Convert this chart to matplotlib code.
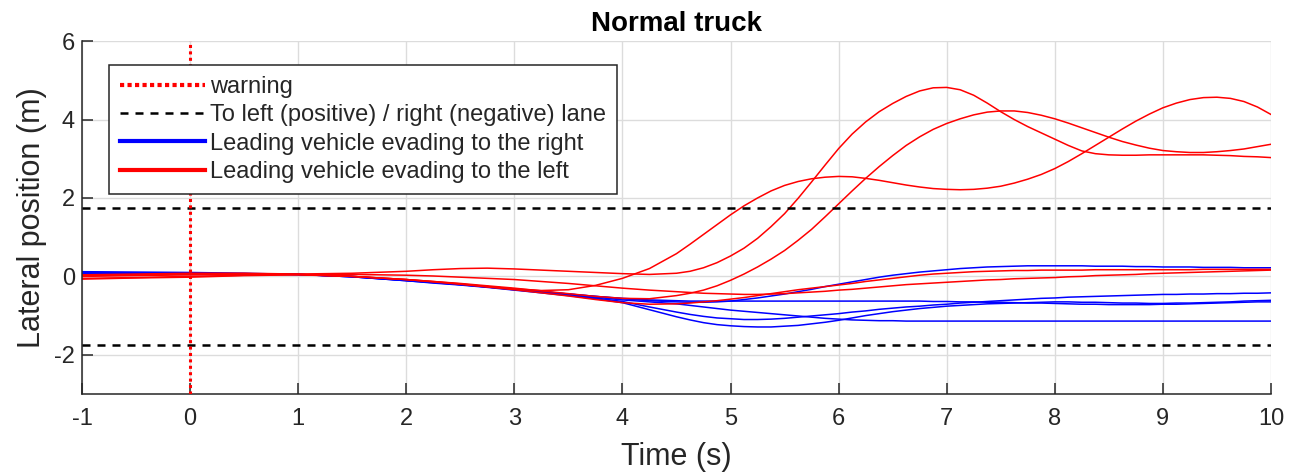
import matplotlib
matplotlib.use('Agg')
from matplotlib import pyplot as plt
from matplotlib.lines import Line2D

plt.rcParams['font.family'] = ['Liberation Sans', 'DejaVu Sans']
plt.rcParams['axes.unicode_minus'] = False

# time samples (s)
t = [-1, -0.5, 0, 0.5, 1, 1.5, 2, 2.25, 2.5, 2.75, 3, 3.25, 3.5, 3.75, 4, 4.25,
     4.5, 4.625, 4.75, 4.875, 5, 5.125, 5.25, 5.375, 5.5, 5.625, 5.75, 5.875,
     6, 6.125, 6.25, 6.375, 6.5, 6.625, 6.75, 6.875, 7, 7.125, 7.25, 7.375,
     7.5, 7.625, 7.75, 7.875, 8, 8.125, 8.25, 8.375, 8.5, 8.625, 8.75, 8.875,
     9, 9.125, 9.25, 9.375, 9.5, 9.625, 9.75, 9.875, 10]

# leading vehicle evading to the left (red)
left_1 = [0.02, 0.04, 0.06, 0.07, 0.05, 0.0, -0.08, -0.13, -0.19, -0.26, -0.32, -0.36, -0.34, -0.23, -0.05, 0.2,
          0.58, 0.82, 1.07, 1.32, 1.57, 1.8, 2.0, 2.18, 2.32, 2.42, 2.49, 2.53,
          2.55, 2.54, 2.5, 2.45, 2.39, 2.33, 2.28, 2.24, 2.22, 2.21, 2.22, 2.25,
          2.3, 2.38, 2.48, 2.6, 2.75, 2.93, 3.13, 3.34, 3.55, 3.76, 3.96, 4.14,
          4.3, 4.42, 4.51, 4.56, 4.57, 4.54, 4.46, 4.32, 4.13]
left_2 = [0.04, 0.06, 0.08, 0.08, 0.06, 0.08, 0.13, 0.17, 0.2, 0.21, 0.19, 0.16, 0.13, 0.1, 0.07, 0.05,
          0.08, 0.13, 0.22, 0.35, 0.52, 0.72, 0.97, 1.27, 1.6, 1.99, 2.41, 2.84,
          3.26, 3.63, 3.94, 4.2, 4.41, 4.59, 4.73, 4.81, 4.82, 4.76, 4.62, 4.42,
          4.2, 4.0, 3.82, 3.66, 3.5, 3.34, 3.2, 3.13, 3.1, 3.09, 3.09, 3.1,
          3.1, 3.1, 3.1, 3.1, 3.09, 3.08, 3.06, 3.05, 3.03]
left_3 = [0.0, 0.02, 0.04, 0.06, 0.05, 0.0, -0.08, -0.13, -0.18, -0.24, -0.3, -0.37, -0.44, -0.51, -0.56, -0.57,
          -0.49, -0.43, -0.35, -0.24, -0.1, 0.06, 0.24, 0.44, 0.66, 0.92, 1.2, 1.52,
          1.85, 2.18, 2.5, 2.8, 3.08, 3.34, 3.56, 3.75, 3.9, 4.02, 4.12, 4.19,
          4.22, 4.22, 4.18, 4.11, 4.02, 3.91, 3.79, 3.67, 3.55, 3.44, 3.35, 3.27,
          3.21, 3.18, 3.16, 3.16, 3.18, 3.21, 3.25, 3.31, 3.37]
left_4 = [-0.05, -0.03, 0.0, 0.03, 0.05, 0.05, 0.03, 0.01, -0.02, -0.05, -0.08, -0.13, -0.18, -0.24, -0.3, -0.35,
          -0.39, -0.41, -0.43, -0.44, -0.45, -0.46, -0.46, -0.45, -0.44, -0.42, -0.4, -0.38,
          -0.35, -0.33, -0.3, -0.27, -0.24, -0.21, -0.19, -0.17, -0.15, -0.13, -0.11, -0.09,
          -0.08, -0.06, -0.05, -0.04, -0.03, -0.01, 0.0, 0.02, 0.03, 0.04, 0.05, 0.07,
          0.08, 0.09, 0.1, 0.11, 0.12, 0.13, 0.14, 0.15, 0.16]
left_5 = [-0.07, -0.04, -0.02, 0.02, 0.04, 0.0, -0.08, -0.14, -0.2, -0.27, -0.34, -0.42, -0.5, -0.59, -0.67, -0.71,
          -0.7, -0.68, -0.65, -0.62, -0.58, -0.54, -0.49, -0.44, -0.39, -0.34, -0.3, -0.26,
          -0.22, -0.18, -0.13, -0.09, -0.05, -0.01, 0.03, 0.06, 0.08, 0.1, 0.12, 0.13,
          0.14, 0.15, 0.15, 0.16, 0.16, 0.16, 0.16, 0.17, 0.17, 0.17, 0.17, 0.17,
          0.17, 0.17, 0.17, 0.18, 0.18, 0.18, 0.18, 0.18, 0.18]

# leading vehicle evading to the right (blue)
right_1 = [0.12, 0.11, 0.1, 0.08, 0.05, -0.01, -0.1, -0.15, -0.2, -0.26, -0.32, -0.38, -0.45, -0.51, -0.57, -0.62,
           -0.65, -0.66, -0.66, -0.65, -0.63, -0.59, -0.55, -0.5, -0.45, -0.39, -0.33, -0.26,
           -0.2, -0.14, -0.08, -0.02, 0.03, 0.07, 0.11, 0.14, 0.17, 0.2, 0.22, 0.24,
           0.25, 0.26, 0.27, 0.27, 0.27, 0.27, 0.27, 0.26, 0.26, 0.26, 0.25, 0.25,
           0.24, 0.24, 0.24, 0.23, 0.23, 0.23, 0.22, 0.22, 0.22]
right_2 = [0.1, 0.09, 0.08, 0.07, 0.05, 0.0, -0.1, -0.15, -0.2, -0.26, -0.32, -0.39, -0.45, -0.51, -0.56, -0.6,
           -0.62, -0.63, -0.63, -0.63, -0.63, -0.63, -0.63, -0.63, -0.63, -0.63, -0.63, -0.63,
           -0.63, -0.63, -0.63, -0.63, -0.63, -0.63, -0.63, -0.64, -0.64, -0.65, -0.65, -0.66,
           -0.66, -0.67, -0.68, -0.68, -0.69, -0.7, -0.71, -0.71, -0.72, -0.72, -0.72, -0.72,
           -0.71, -0.71, -0.7, -0.69, -0.68, -0.67, -0.66, -0.65, -0.65]
right_3 = [0.08, 0.08, 0.07, 0.06, 0.05, -0.01, -0.11, -0.16, -0.21, -0.27, -0.34, -0.4, -0.47, -0.55, -0.64, -0.78,
           -0.91, -0.97, -1.02, -1.06, -1.08, -1.1, -1.1, -1.09, -1.07, -1.04, -1.01, -0.98,
           -0.95, -0.91, -0.88, -0.84, -0.81, -0.78, -0.76, -0.73, -0.71, -0.68, -0.66, -0.64,
           -0.62, -0.6, -0.58, -0.56, -0.55, -0.53, -0.52, -0.51, -0.5, -0.49, -0.48, -0.47,
           -0.46, -0.46, -0.45, -0.45, -0.44, -0.44, -0.43, -0.43, -0.42]
right_4 = [0.06, 0.06, 0.06, 0.06, 0.05, -0.01, -0.11, -0.17, -0.22, -0.28, -0.35, -0.42, -0.49, -0.57, -0.67, -0.85,
           -1.03, -1.11, -1.18, -1.23, -1.26, -1.28, -1.29, -1.29, -1.27, -1.25, -1.21, -1.17,
           -1.12, -1.06, -1.0, -0.95, -0.9, -0.86, -0.82, -0.79, -0.76, -0.74, -0.72, -0.7,
           -0.69, -0.68, -0.67, -0.66, -0.65, -0.65, -0.66, -0.66, -0.67, -0.68, -0.68, -0.69,
           -0.69, -0.68, -0.68, -0.67, -0.66, -0.65, -0.63, -0.62, -0.61]
right_5 = [0.04, 0.05, 0.05, 0.05, 0.05, 0.0, -0.1, -0.15, -0.21, -0.27, -0.33, -0.39, -0.46, -0.53, -0.6, -0.65,
           -0.7, -0.74, -0.78, -0.82, -0.86, -0.89, -0.92, -0.95, -0.98, -1.01, -1.04, -1.07,
           -1.09, -1.11, -1.12, -1.13, -1.13, -1.14, -1.14, -1.14, -1.14, -1.14, -1.14, -1.14,
           -1.14, -1.14, -1.14, -1.14, -1.14, -1.14, -1.14, -1.14, -1.14, -1.14, -1.14, -1.14,
           -1.14, -1.14, -1.14, -1.14, -1.14, -1.14, -1.14, -1.14, -1.14]

lane_half_width = 1.75
warning_time = 0

axis_col = '#262626'

fig = plt.figure(figsize=(12.91, 4.73), dpi=100)
ax = fig.add_axes([0.0635, 0.167, 0.921, 0.746])

for y in [right_1, right_2, right_3, right_4, right_5]:
    ax.plot(t, y, color='b', lw=1.1)
for y in [left_1, left_2, left_3, left_4, left_5]:
    ax.plot(t, y, color='r', lw=1.1)

ax.axhline(lane_half_width, color='k', lw=1.8, ls=(0, (3.2, 2.8)), zorder=4)
ax.axhline(-lane_half_width, color='k', lw=1.8, ls=(0, (3.2, 2.8)), zorder=4)
ax.axvline(warning_time, color='r', lw=2.2, ls=(0, (1, 1.1)), zorder=5)

ax.set_xlim(-1, 10)
ax.set_ylim(-3, 6)
ax.set_xticks(range(-1, 11))
ax.set_yticks([-2, 0, 2, 4, 6])
ax.grid(True, color='#dcdcdc', lw=1)
ax.set_axisbelow(True)

for s in ['top', 'right']:
    ax.spines[s].set_visible(False)
for s in ['left', 'bottom']:
    ax.spines[s].set_color(axis_col)
    ax.spines[s].set_linewidth(1.1)
ax.tick_params(direction='in', length=8, width=1.1, color=axis_col, labelcolor=axis_col,
               labelsize=17)
ax.tick_params(axis='x', pad=10)
ax.tick_params(axis='y', pad=5)

ax.set_xlabel('Time (s)', fontsize=22, color=axis_col, labelpad=9)
ax.set_ylabel('Lateral position (m)', fontsize=22, color=axis_col, labelpad=5)
ax.set_title('Normal truck', fontsize=20, fontweight='bold', pad=7)

handles = [
    Line2D([], [], color='r', lw=3, ls=(0, (1, 0.8))),
    Line2D([], [], color='k', lw=1.8, ls=(0, (3.2, 2.8))),
    Line2D([], [], color='b', lw=3),
    Line2D([], [], color='r', lw=3),
]
labels = ['warning', 'To left (positive) / right (negative) lane',
          'Leading vehicle evading to the right', 'Leading vehicle evading to the left']
leg = ax.legend(handles, labels, loc='upper left', bbox_to_anchor=(0.0227, 0.932),
                borderaxespad=0, fontsize=17, handlelength=3.6, handletextpad=0.25,
                labelspacing=0.27, borderpad=0.45, fancybox=False, framealpha=1)
leg.get_frame().set_edgecolor(axis_col)
leg.get_frame().set_linewidth(1.1)
for txt in leg.get_texts():
    txt.set_color(axis_col)

fig.savefig('out.png', dpi=100)
